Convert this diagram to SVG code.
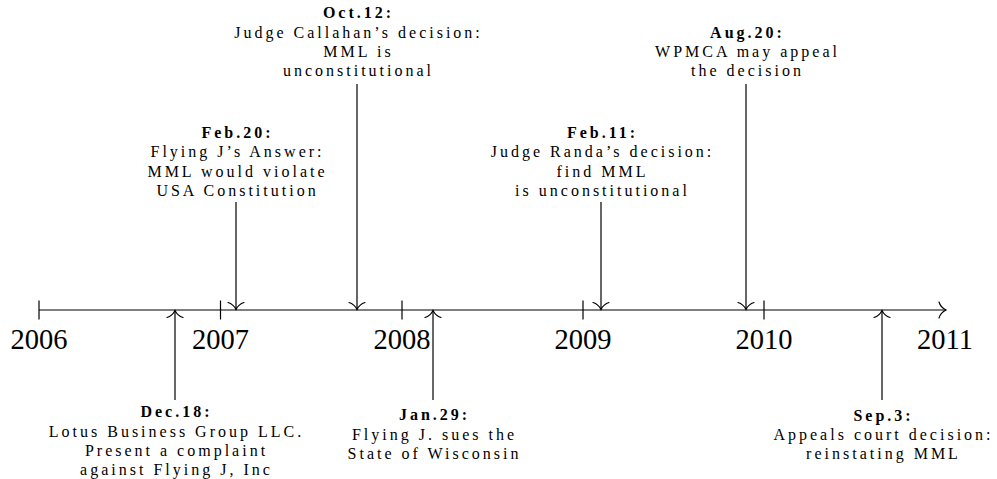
<svg xmlns="http://www.w3.org/2000/svg" width="997" height="479" viewBox="0 0 997 479">
<style>
  .t { font-family: "Liberation Serif", "Times New Roman", serif; font-size: 16px; letter-spacing: 3px; text-anchor: middle; fill: #000; }
  .b { font-weight: bold; }
  .yr { font-family: "Liberation Serif", "Times New Roman", serif; font-size: 28.5px; text-anchor: middle; fill: #000; }
  .ln { stroke: #000; stroke-width: 1.2; fill: none; }
</style>
<defs>
  <marker id="to" viewBox="-10 -10 20 20" markerWidth="20" markerHeight="20" refX="0" refY="0" orient="auto" markerUnits="userSpaceOnUse">
    <path d="M -7 -8 C -6 -4.5 -2.5 -1.2 0 0 C -2.5 1.2 -6 4.5 -7 8" stroke="#000" stroke-width="1.2" fill="none" stroke-linecap="round"/>
  </marker>
</defs>
<rect width="997" height="479" fill="#fff"/>

<g id="axis">
  <line class="ln" x1="39" y1="310" x2="946" y2="310" marker-end="url(#to)"/>
  <line class="ln" x1="39" y1="300.5" x2="39" y2="319.5"/>
  <line class="ln" x1="220.5" y1="300.5" x2="220.5" y2="319.5"/>
  <line class="ln" x1="402" y1="300.5" x2="402" y2="319.5"/>
  <line class="ln" x1="583" y1="300.5" x2="583" y2="319.5"/>
  <line class="ln" x1="764" y1="300.5" x2="764" y2="319.5"/>
  <text class="yr" x="39" y="349">2006</text>
  <text class="yr" x="220.5" y="349">2007</text>
  <text class="yr" x="402" y="349">2008</text>
  <text class="yr" x="583" y="349">2009</text>
  <text class="yr" x="764" y="349">2010</text>
  <text class="yr" x="945" y="349">2011</text>
</g>

<g id="connectors">
  <line class="ln" x1="175" y1="400" x2="175" y2="310.5" marker-end="url(#to)"/>
  <line class="ln" x1="236" y1="202" x2="236" y2="309.5" marker-end="url(#to)"/>
  <line class="ln" x1="357" y1="84" x2="357" y2="309.5" marker-end="url(#to)"/>
  <line class="ln" x1="433" y1="400" x2="433" y2="310.5" marker-end="url(#to)"/>
  <line class="ln" x1="601" y1="202" x2="601" y2="309.5" marker-end="url(#to)"/>
  <line class="ln" x1="746" y1="84" x2="746" y2="309.5" marker-end="url(#to)"/>
  <line class="ln" x1="882" y1="400" x2="882" y2="310.5" marker-end="url(#to)"/>
</g>

<g id="oct12">
  <text class="t b" x="358.5" y="18">Oct.12:</text>
  <text class="t" x="358.5" y="37.5">Judge Callahan’s decision:</text>
  <text class="t" x="358.5" y="56.5">MML is</text>
  <text class="t" x="358.5" y="75.5">unconstitutional</text>
</g>
<g id="aug20">
  <text class="t b" x="747.5" y="37.5">Aug.20:</text>
  <text class="t" x="747.5" y="56.5">WPMCA may appeal</text>
  <text class="t" x="747.5" y="75.5">the decision</text>
</g>
<g id="feb20">
  <text class="t b" x="237.5" y="137.5">Feb.20:</text>
  <text class="t" x="237.5" y="157">Flying J’s Answer:</text>
  <text class="t" x="237.5" y="176.5">MML would violate</text>
  <text class="t" x="237.5" y="196">USA Constitution</text>
</g>
<g id="feb11">
  <text class="t b" x="602.5" y="137.5">Feb.11:</text>
  <text class="t" x="602.5" y="157">Judge Randa’s decision:</text>
  <text class="t" x="602.5" y="176.5">find MML</text>
  <text class="t" x="602.5" y="196">is unconstitutional</text>
</g>
<g id="dec18">
  <text class="t b" x="176.5" y="417">Dec.18:</text>
  <text class="t" x="176.5" y="436.5">Lotus Business Group LLC.</text>
  <text class="t" x="176.5" y="456">Present a complaint</text>
  <text class="t" x="176.5" y="475">against Flying J, Inc</text>
</g>
<g id="jan29">
  <text class="t b" x="434.5" y="420">Jan.29:</text>
  <text class="t" x="434.5" y="439.5">Flying J. sues the</text>
  <text class="t" x="434.5" y="459">State of Wisconsin</text>
</g>
<g id="sep3">
  <text class="t b" x="883.5" y="420.5">Sep.3:</text>
  <text class="t" x="883.5" y="440">Appeals court decision:</text>
  <text class="t" x="883.5" y="459">reinstating MML</text>
</g>
</svg>
